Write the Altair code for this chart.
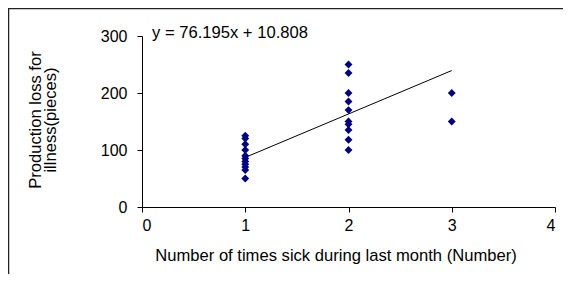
import altair as alt
import pandas as pd

# Data
x_one = [1] * 11
y_one = [50, 65, 70, 75, 80, 85, 90, 100, 110, 120, 125]
x_two = [2] * 10
y_two = [100, 118, 135, 145, 150, 170, 185, 200, 235, 250]
x_three = [3, 3]
y_three = [150, 200]

slope = 76.195
intercept = 10.808
trend_x = [1, 3]
x_ticks = [0, 1, 2, 3, 4]
y_ticks = [0, 100, 200, 300]
equation = "y = 76.195x + 10.808"

pts = pd.DataFrame({
    "x": x_one + x_two + x_three,
    "y": y_one + y_two + y_three,
})
trend = pd.DataFrame({"x": trend_x, "y": [slope * v + intercept for v in trend_x]})

FONT = "Liberation Sans"
FS = 16
TFS = 16.6
W, H = 413, 171

xscale = alt.Scale(domain=[0, 4], nice=False, zero=False)
yscale = alt.Scale(domain=[0, 300], nice=False)

xaxis = alt.Axis(values=x_ticks, format="d", title="Number of times sick during last month (Number)",
                 grid=False, domainColor="black", tickColor="black", tickSize=5,
                 labelPadding=5, labelFontSize=FS, titleFontSize=TFS, titleFontWeight="normal",
                 titlePadding=14, titleX=W / 2 - 13, labelColor="black", titleColor="black",
                 labelFont=FONT, titleFont=FONT)
yaxis = alt.Axis(values=y_ticks, title=["Production loss for", "illness(pieces)"],
                 grid=False, domainColor="black", tickColor="black", tickSize=5,
                 labelPadding=10, labelFontSize=FS, titleFontSize=TFS, titleFontWeight="normal",
                 labelColor="black", titleColor="black", labelFont=FONT, titleFont=FONT,
                 titleX=-102, titleY=H / 2 - 2, titleAngle=-90, titleBaseline="alphabetic",
                 titleAlign="center", titleLineHeight=15)

points = alt.Chart(pts).mark_point(shape="diamond", filled=True, color="#000080",
                                   size=62, opacity=1).encode(
    x=alt.X("x:Q", scale=xscale, axis=xaxis),
    y=alt.Y("y:Q", scale=yscale, axis=yaxis),
)

line = alt.Chart(trend).mark_line(color="black", strokeWidth=1).encode(
    x=alt.X("x:Q", scale=xscale),
    y=alt.Y("y:Q", scale=yscale),
)

label = alt.Chart(pd.DataFrame({"t": [equation]})).mark_text(
    align="left", baseline="alphabetic", fontSize=TFS, font=FONT, color="black"
).encode(x=alt.value(10), y=alt.value(2), text="t:N")

frame_left = alt.Chart(pd.DataFrame({"a": [0]})).mark_rule(color="#222222", strokeWidth=1.5).encode(
    x=alt.value(-133.5), y=alt.value(-28), y2=alt.value(H + 67))
frame_top = alt.Chart(pd.DataFrame({"a": [0]})).mark_rule(color="#222222", strokeWidth=1.5).encode(
    x=alt.value(-134), x2=alt.value(W + 8), y=alt.value(-27.5))

chart = alt.layer(frame_left, frame_top, line, points, label).properties(
    width=W, height=H,
    background="white",
    autosize=alt.AutoSizeParams(type="none"),
    padding={"left": 134, "top": 28, "right": 8, "bottom": 67},
).configure_view(strokeWidth=0, stroke="transparent")

chart.save("out.html", embed_options={"renderer": "svg", "actions": False})
